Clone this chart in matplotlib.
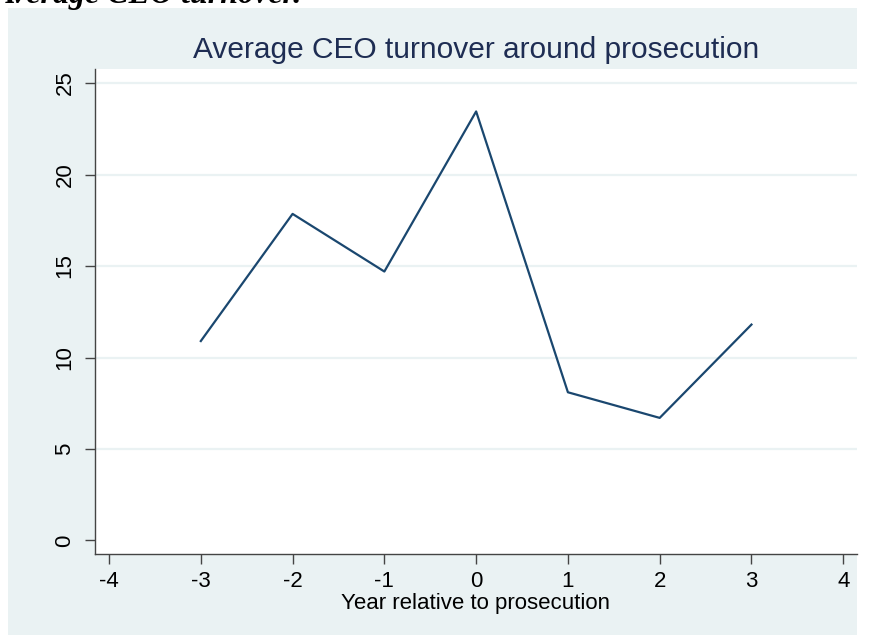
import matplotlib.pyplot as plt
from matplotlib.patches import Rectangle

years = [-3, -2, -1, 0, 1, 2, 3]
turnover = [10.9, 17.85, 14.7, 23.45, 8.1, 6.7, 11.8]

xticks = [-4, -3, -2, -1, 0, 1, 2, 3, 4]
yticks = [0, 5, 10, 15, 20, 25]

bg = "#EAF2F3"
navy = "#1A476F"

fig = plt.figure(figsize=(8.7, 6.35), dpi=100)
fig.patch.set_facecolor("white")
# stata graph region (cropped on the right)
fig.patches.append(Rectangle((8 / 870, 0), 849 / 870, 1 - 8 / 635,
                             transform=fig.transFigure, facecolor=bg,
                             edgecolor="none", zorder=-10))

# caption cut off at the top of the crop
fig.text(302 / 870, 1 - 3 / 635, "Average CEO turnover.", ha="right",
         va="baseline", fontsize=23, fontweight="bold", fontstyle="italic",
         family="Liberation Serif", color="black")

ax = fig.add_axes([95 / 870, 1 - 554 / 635, 762 / 870, 485 / 635])
ax.set_facecolor("white")
ax.plot(years, turnover, color=navy, lw=1.6, zorder=3)

ax.set_xlim(-4.153, 4.15)
ax.set_ylim(-0.74, 25.77)
ax.set_xticks(xticks)
ax.set_yticks(yticks)
ax.set_xticklabels([str(v) for v in xticks])
ax.set_yticklabels([str(v) for v in yticks], rotation=90, va="center")

for v in yticks[1:]:
    ax.axhline(v, color=bg, lw=1.6, zorder=1)

for s in ["top", "right"]:
    ax.spines[s].set_visible(False)
for s in ["left", "bottom"]:
    ax.spines[s].set_color("#444444")
    ax.spines[s].set_linewidth(1.0)

ax.tick_params(axis="both", direction="out", length=7, width=1.0,
               color="#444444", labelsize=16, labelcolor="black", pad=5)
ax.tick_params(axis="y", pad=7)

ax.set_xlabel("Year relative to prosecution", fontsize=16, labelpad=1,
              family="Liberation Sans")
for lab in ax.get_xticklabels() + ax.get_yticklabels():
    lab.set_family("Liberation Sans")

ax.set_title("Average CEO turnover around prosecution", fontsize=21.5,
             color="#1E2D53", family="Liberation Sans", pad=8)

fig.savefig("out.png", dpi=100)
